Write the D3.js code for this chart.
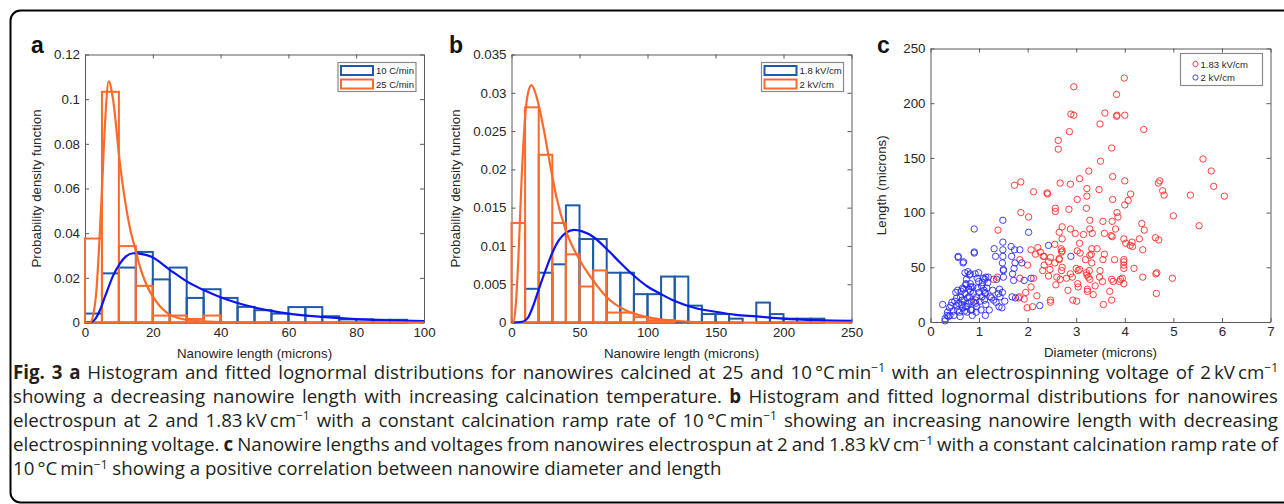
<!DOCTYPE html>
<html>
<head>
<meta charset="utf-8">
<script src="https://cdn.jsdelivr.net/npm/d3@7"></script>
<style>
  body { margin: 0; background: #fff; }
  svg { display: block; font-family: "Liberation Sans", Arial, sans-serif; }
</style>
</head>
<body>
<div id="fig"></div>
<script>
// ---- panel a : calcination ramp rate, bins of 5 microns ----
var aEdges = d3.range(0, 105, 5);
var a10 = [0.004, 0.022, 0.0246, 0.0316, 0.0193, 0.0246, 0.011, 0.0149, 0.011, 0.007,
           0.0055, 0.004, 0.0069, 0.0069, 0.0028, 0.0014, 0.0014, 0.0012, 0.0012, 0];
var a25 = [0.0376, 0.1033, 0.0342, 0.0164, 0.0031, 0.0031, 0.0016, 0.0031, 0, 0,
           0, 0, 0, 0, 0, 0, 0, 0, 0, 0];
var aFit10 = [[0, 0], [2, 0.0003], [3, 0.0015], [4.4, 0.0055], [6, 0.012], [8.3, 0.021], [10.3, 0.0264],
              [12, 0.0295], [14.2, 0.031], [16, 0.0308], [19.6, 0.0294], [25, 0.0236], [30, 0.0184],
              [35, 0.0145], [40, 0.0113], [45, 0.0087], [50, 0.0067], [55, 0.0052], [60, 0.004],
              [70, 0.0025], [80, 0.0015], [90, 0.001], [100, 0.0006]];
var aFit25 = [[0, 0], [1.5, 0], [2.5, 0.004], [3.4, 0.015], [4.2, 0.035], [4.9, 0.056], [5.9, 0.089],
              [7, 0.108], [8.3, 0.0996], [10.3, 0.0712], [12.3, 0.05], [13.3, 0.042], [15, 0.032],
              [16.2, 0.025], [18.2, 0.0167], [21.1, 0.0092], [25, 0.0035], [30, 0.0012], [35, 0.0005],
              [45, 0.0001], [100, 0]];
var aXTicks = [0, 20, 40, 60, 80, 100];
var aYTicks = [0, 0.02, 0.04, 0.06, 0.08, 0.1, 0.12];
var aNames = ["10 C/min", "25 C/min"];

// ---- panel b : electrospinning voltage, bins of 10 microns ----
var bEdges = d3.range(0, 260, 10);
var b18 = [0, 0.0044, 0.0065, 0.0076, 0.0153, 0.0109, 0.0109, 0.0065, 0.0065, 0.0037,
           0.0037, 0.006, 0.006, 0.0022, 0.0011, 0.0011, 0.0005, 0, 0.0026, 0.0011,
           0.0005, 0.0005, 0.0005, 0, 0];
var b2 = [0.013, 0.0281, 0.0219, 0.013, 0.0089, 0.0047, 0.0068, 0.0013, 0.0013, 0.0007,
          0.0003, 0.0003, 0, 0, 0, 0, 0, 0, 0, 0, 0, 0, 0, 0, 0];
var bFit18 = [[0, 0], [8, 0.0001], [12, 0.0006], [16, 0.0022], [20, 0.0043], [25, 0.0068], [30, 0.0091],
              [35, 0.0108], [40, 0.0117], [46, 0.0121], [52, 0.0119], [60, 0.0112], [70, 0.0096],
              [80, 0.0078], [90, 0.0061], [100, 0.0047], [110, 0.0037], [120, 0.0028], [135, 0.0019],
              [150, 0.0014], [165, 0.001], [180, 0.0008], [200, 0.0005], [225, 0.0003], [250, 0.0002]];
var bFit2 = [[0, 0], [1.2, 0], [3, 0.002], [4.9, 0.0077], [7.4, 0.0186], [9.8, 0.0264], [12.3, 0.0301],
             [14.7, 0.031], [18.4, 0.0295], [23.3, 0.0256], [28.2, 0.0208], [33, 0.0164], [40, 0.012],
             [50, 0.0082], [60, 0.0055], [70, 0.0033], [85, 0.0015], [100, 0.0007], [120, 0.0002],
             [150, 0], [250, 0]];
var bXTicks = [0, 50, 100, 150, 200, 250];
var bYTicks = [0, 0.005, 0.01, 0.015, 0.02, 0.025, 0.03, 0.035];
var bNames = ["1.8 kV/cm", "2 kV/cm"];

// ---- panel c : diameter vs length ----
var c183 = [
  [3.99,223],[2.95,215],[3.83,208],[2.89,190],[2.95,189],[3.59,191],[3.83,188],[3.84,189],[4.00,189],
  [3.49,181],[4.39,176],[2.86,174],[2.63,166],[2.63,158],[3.73,159],[3.50,147],[5.61,149],[3.26,138],
  [5.78,138],[3.75,133],[3.07,131],[4.00,129],[2.67,127],[2.88,126],[4.72,129],[4.69,127],[1.73,125],
  [1.86,128],[5.83,124],[4.78,120],[3.47,121],[4.81,116],[3.22,122],[3.22,115],[2.12,119],[2.40,118],
  [2.41,117],[4.12,117],[5.35,116],[6.05,115],[3.02,112],[3.75,112],[4.07,111],[4.00,107],[2.57,104],
  [2.57,101],[2.85,103],[3.21,104],[1.86,100],
  [2.02,96],[5.00,97],[3.28,93],[3.55,92],[3.74,92],[4.35,90],[3.84,100],[3.86,96],[2.71,87],[5.53,88],
  [2.88,85],[3.28,85],[3.81,85],[1.39,84],[4.40,84],[2.65,82],[2.98,81],[3.33,81],[3.58,81],[3.72,79],
  [3.74,78],[3.15,80],[2.71,76],[3.98,76],[4.30,76],[4.63,77],[4.70,75],[4.15,73],[3.07,72],[4.02,72],
  [2.56,71],[4.16,69],[4.11,70],[2.21,68],[2.07,66],[2.69,67],[2.71,65],[2.70,64],[3.02,65],[3.32,67],
  [3.43,67],[4.37,66],[3.31,62],[3.28,61],[3.08,63],[3.58,62],[2.16,62],[2.26,64],[2.32,60],[2.34,60],
  [2.47,59],[2.65,58],[2.65,57],[2.43,55],[2.56,54],[1.84,57],[2.00,52],[3.55,57],[3.79,57],[3.98,57],
  [3.98,55],[3.98,52],[3.98,49],[3.00,49],[3.19,57],[3.32,54],[3.07,48],[3.04,47],[2.71,50],[2.70,47],
  [2.46,48],[4.19,49],[3.49,47],[3.27,47],[2.34,52],[2.31,47],
  [1.84,40],[2.12,40],[4.98,40],[4.64,44],[4.66,45],[4.37,41],[3.73,39],[3.91,39],[3.76,37],[3.95,40],
  [3.98,35],[3.48,41],[3.25,41],[3.28,39],[2.92,41],[2.88,44],[3.21,45],[3.22,43],[2.60,41],[2.43,42],
  [2.07,32],[1.96,27],[1.83,23],[1.81,22],[1.93,21],[1.99,13],[2.10,14],[2.19,24],[2.47,20],[2.47,18],
  [2.58,34],[2.83,29],[3.04,32],[3.03,35],[2.93,20],[3.01,19],[3.23,30],[3.23,28],[3.35,25],[3.39,33],
  [3.56,16],[3.69,28],[3.73,20],[4.65,26],[2.67,39],[2.80,40],[1.30,39],[1.38,41],[0.93,20],[3.54,37],
  [3.89,37]
];
var c2 = [
  [0.25,16],[0.30,1],[0.30,3],[0.34,6],[0.37,5],[0.40,6],[0.39,13],[0.44,18],[0.42,15],[0.48,6],
  [0.56,11],[0.54,15],[0.54,22],[0.56,29],[0.57,59],[0.62,23],[0.60,9],[0.61,5],[0.64,16],[0.66,13],
  [0.66,31],[0.68,55],[0.69,20],[0.71,26],[0.73,34],[0.73,35],[0.75,9],[0.75,14],[0.77,46],[0.78,17],
  [0.80,23],[0.82,28],[0.82,35],[0.83,32],[0.85,11],[0.86,6],[0.80,43],[0.87,32],[0.88,26],[0.90,85],
  [0.90,64],[0.90,63],[0.92,44],[0.93,17],[0.95,23],[0.95,14],[0.94,9],[0.99,45],[0.99,37],[0.97,31],
  [1.02,19],[1.04,11],[1.06,23],[1.07,36],[1.09,40],[1.12,39],[1.10,29],[1.12,27],[1.13,26],[1.11,20],
  [1.14,16],[1.13,6],[1.14,41],[1.19,41],[1.21,11],[1.23,23],[1.26,22],[1.28,29],[1.30,20],[1.31,67],
  [1.34,60],[1.36,39],[1.40,26],[1.42,30],[1.41,14],[1.43,23],[1.47,13],[1.49,93],[1.49,73],[1.49,66],
  [1.49,60],[1.48,54],[1.50,48],[1.50,47],[1.50,41],[1.53,19],[1.48,27],[1.66,69],[1.67,60],[1.73,66],
  [1.74,54],[1.72,49],[1.69,44],[1.71,38],[1.68,23],[1.75,22],[1.84,66],[1.88,54],[1.93,38],[2.02,82],
  [2.07,40],[2.25,15],[2.43,70],[2.89,60],[0.67,54],[0.71,45],[0.82,44],[0.57,60],[0.50,19],[0.58,17],
  [0.70,10],[0.76,22],[0.84,19],[0.63,28],[0.47,10],[0.35,9],[0.68,30],[0.79,30],[0.89,18],[1.00,27],
  [1.05,33],[1.18,36],[1.16,31],[1.35,18],[0.96,40],[0.74,39],[0.52,27],[0.65,20],[0.72,14],[0.83,11]
];
var cXTicks = [0, 1, 2, 3, 4, 5, 6, 7];
var cYTicks = [0, 50, 100, 150, 200, 250];
var cNames = ["1.83 kV/cm", "2 kV/cm"];

var blueEdge = "#1d5aa8", orange = "#fb6a2a", fitBlue = "#0a14f5";
var axisCol = "#5a5a5a", textCol = "#262626";

var svg = d3.select("#fig").append("svg")
    .attr("width", 1284)
    .attr("height", 504);

// figure frame
svg.append("rect")
    .attr("x", 10.5).attr("y", 10.5)
    .attr("width", 1300).attr("height", 492)
    .attr("rx", 10)
    .attr("fill", "none")
    .attr("stroke", "#000")
    .attr("stroke-width", 2);

function fmtTick(d) { return String(+d.toFixed(4)); }

function drawAxes(g, x, y, xt, yt, w, h) {
  g.append("g").attr("transform", "translate(0," + h + ")")
    .call(d3.axisBottom(x).tickValues(xt).tickSizeInner(-4).tickSizeOuter(0).tickPadding(5).tickFormat(fmtTick));
  g.append("g")
    .call(d3.axisLeft(y).tickValues(yt).tickSizeInner(-4).tickSizeOuter(0).tickPadding(5).tickFormat(fmtTick));
  g.append("g")
    .call(d3.axisTop(x).tickValues(xt).tickSizeInner(-4).tickSizeOuter(0).tickFormat(""));
  g.append("g").attr("transform", "translate(" + w + ",0)")
    .call(d3.axisRight(y).tickValues(yt).tickSizeInner(-4).tickSizeOuter(0).tickFormat(""));
  g.selectAll(".domain, .tick line").attr("stroke", axisCol).attr("stroke-width", 1);
  g.selectAll(".tick text").attr("fill", textCol).style("font-size", "13.3px")
    .style("font-family", '"Liberation Sans", Arial, sans-serif');
}

function histPanel(o) {
  var w = o.right - o.left, h = o.bottom - o.top;
  var g = svg.append("g").attr("transform", "translate(" + o.left + "," + o.top + ")");
  var x = d3.scaleLinear().domain(o.xDomain).range([0, w]);
  var y = d3.scaleLinear().domain(o.yDomain).range([h, 0]);
  drawAxes(g, x, y, o.xTicks, o.yTicks, w, h);

  [[o.s1, blueEdge], [o.s2, orange]].forEach(function(s) {
    g.append("g").selectAll("rect")
      .data(s[0].map(function(v, i) { return {x0: o.edges[i], x1: o.edges[i + 1], v: v}; })
                .filter(function(d) { return d.v > 0; }))
      .enter().append("rect")
        .attr("x", function(d) { return x(d.x0); })
        .attr("y", function(d) { return y(d.v); })
        .attr("width", function(d) { return x(d.x1) - x(d.x0); })
        .attr("height", function(d) { return y(0) - y(d.v); })
        .attr("fill", "none")
        .attr("stroke", s[1])
        .attr("stroke-width", 2);
  });

  var line = d3.line()
    .x(function(d) { return x(d[0]); })
    .y(function(d) { return y(d[1]); })
    .curve(d3.curveMonotoneX);
  g.append("path").attr("d", line(o.f1)).attr("fill", "none").attr("stroke", fitBlue).attr("stroke-width", 2.2);
  g.append("path").attr("d", line(o.f2)).attr("fill", "none").attr("stroke", orange).attr("stroke-width", 2.2);

  // legend
  var lg = g.append("g").attr("transform", "translate(" + (w - o.legW - 8) + ",8)");
  lg.append("rect").attr("width", o.legW).attr("height", 29)
    .attr("fill", "#fff").attr("stroke", "#8a8a8a").attr("stroke-width", 1.2);
  [blueEdge, orange].forEach(function(c, i) {
    lg.append("rect").attr("x", 3).attr("y", 3.5 + i * 13.5).attr("width", 32).attr("height", 9)
      .attr("fill", "#fff").attr("stroke", c).attr("stroke-width", 2);
    lg.append("text").attr("x", 38).attr("y", 11.5 + i * 13.5)
      .attr("fill", textCol).style("font-size", "9.5px").text(o.names[i]);
  });

  g.append("text").attr("x", w / 2).attr("y", h + 35).attr("text-anchor", "middle")
    .attr("fill", textCol).style("font-size", "13.3px").text("Nanowire length (microns)");
  g.append("text").attr("transform", "translate(" + o.yLabX + "," + (h / 2) + ")rotate(-90)")
    .attr("text-anchor", "middle").attr("fill", textCol).style("font-size", "13.3px")
    .text("Probability density function");
  svg.append("text").attr("x", o.tagX).attr("y", 53).attr("font-weight", "bold")
    .style("font-size", "23px").attr("fill", "#111").text(o.tag);
}

histPanel({left: 85, right: 424, top: 54.5, bottom: 322.5, xDomain: [0, 100], yDomain: [0, 0.12],
  edges: aEdges, s1: a10, s2: a25, f1: aFit10, f2: aFit25, xTicks: aXTicks, yTicks: aYTicks,
  names: aNames, legW: 78, yLabX: -44, tagX: 31, tag: "a"});
histPanel({left: 511.5, right: 851.5, top: 54.5, bottom: 322.5, xDomain: [0, 250], yDomain: [0, 0.035],
  edges: bEdges, s1: b18, s2: b2, f1: bFit18, f2: bFit2, xTicks: bXTicks, yTicks: bYTicks,
  names: bNames, legW: 82, yLabX: -52, tagX: 449, tag: "b"});

// ---- scatter ----
(function() {
  var left = 930.5, right = 1270.5, top = 48.5, bottom = 322;
  var w = right - left, h = bottom - top;
  var g = svg.append("g").attr("transform", "translate(" + left + "," + top + ")");
  var x = d3.scaleLinear().domain([0, 7]).range([0, w]);
  var y = d3.scaleLinear().domain([0, 250]).range([h, 0]);
  drawAxes(g, x, y, cXTicks, cYTicks, w, h);

  [[c183, "#ff2a2a"], [c2, "#2a2aff"]].forEach(function(s) {
    g.append("g").selectAll("circle").data(s[0]).enter().append("circle")
      .attr("cx", function(d) { return x(d[0]); })
      .attr("cy", function(d) { return y(d[1]); })
      .attr("r", 3.2)
      .attr("fill", "none")
      .attr("stroke", s[1])
      .attr("stroke-width", 0.9);
  });

  var lg = g.append("g").attr("transform", "translate(" + (w - 90) + ",5)");
  lg.append("rect").attr("width", 82).attr("height", 32)
    .attr("fill", "#fff").attr("stroke", "#8a8a8a").attr("stroke-width", 1.2);
  ["#ff2a2a", "#2a2aff"].forEach(function(c, i) {
    lg.append("circle").attr("cx", 15).attr("cy", 10.5 + i * 13.5).attr("r", 2.6)
      .attr("fill", "none").attr("stroke", c).attr("stroke-width", 0.9);
    lg.append("text").attr("x", 20).attr("y", 14 + i * 13.5)
      .attr("fill", textCol).style("font-size", "9.5px").text(cNames[i]);
  });

  g.append("text").attr("x", w / 2).attr("y", h + 35).attr("text-anchor", "middle")
    .attr("fill", textCol).style("font-size", "13.3px").text("Diameter (microns)");
  g.append("text").attr("transform", "translate(-45," + (h / 2) + ")rotate(-90)")
    .attr("text-anchor", "middle").attr("fill", textCol).style("font-size", "13.3px")
    .text("Length (microns)");
  svg.append("text").attr("x", 877).attr("y", 53).attr("font-weight", "bold")
    .style("font-size", "23px").attr("fill", "#111").text("c");
})();

// ---- caption: [text, style] with b = bold, s = superscript ----
var captionLines = [
  [["Fig. 3", "b"], [" "], ["a", "b"], [" Histogram and fitted lognormal distributions for nanowires calcined at 25 and 10\u2009\u00b0C\u2009min"], ["\u22121", "s"],
   [" with an electrospinning voltage of 2\u2009kV\u2009cm"], ["\u22121", "s"]],
  [["showing a decreasing nanowire length with increasing calcination temperature. "], ["b", "b"], [" Histogram and fitted lognormal distributions for nanowires"]],
  [["electrospun at 2 and 1.83\u2009kV\u2009cm"], ["\u22121", "s"], [" with a constant calcination ramp rate of 10\u2009\u00b0C\u2009min"], ["\u22121", "s"],
   [" showing an increasing nanowire length with decreasing"]],
  [["electrospinning voltage. "], ["c", "b"], [" Nanowire lengths and voltages from nanowires electrospun at 2 and 1.83\u2009kV\u2009cm"], ["\u22121", "s"],
   [" with a constant calcination ramp rate of"]],
  [["10\u2009\u00b0C\u2009min"], ["\u22121", "s"], [" showing a positive correlation between nanowire diameter and length"]]
];

function captionLine(line, i, size) {
  var t = svg.append("text").attr("x", 13).attr("y", 378.5 + i * 24.2)
    .attr("fill", "#231f20").style("font-family", "'Open Sans', 'Noto Sans', sans-serif")
    .style("font-size", size + "px");
  var raised = false;
  line.forEach(function(seg) {
    var ts = t.append("tspan").text(seg[0]);
    if (seg[1] === "b") ts.attr("font-weight", "bold");
    if (seg[1] === "s") { ts.attr("dy", -6.5).style("font-size", (size * 0.64) + "px"); raised = true; }
    else if (raised) { ts.attr("dy", 6.5); raised = false; }
  });
  return t;
}

// size the caption so the last (unjustified) line ends where it does in the figure
var probe = captionLine(captionLines[4], 4, 16);
var capSize = 16 * 709 / probe.node().getComputedTextLength();
probe.remove();
captionLines.forEach(function(line, i) {
  var t = captionLine(line, i, capSize);
  if (i < 4) {
    var natural = t.node().getComputedTextLength();
    var spaces = line.map(function(s) { return s[0]; }).join("").split(" ").length - 1;
    t.attr("word-spacing", (1265 - natural) / spaces);
  }
});
</script>
</body>
</html>
